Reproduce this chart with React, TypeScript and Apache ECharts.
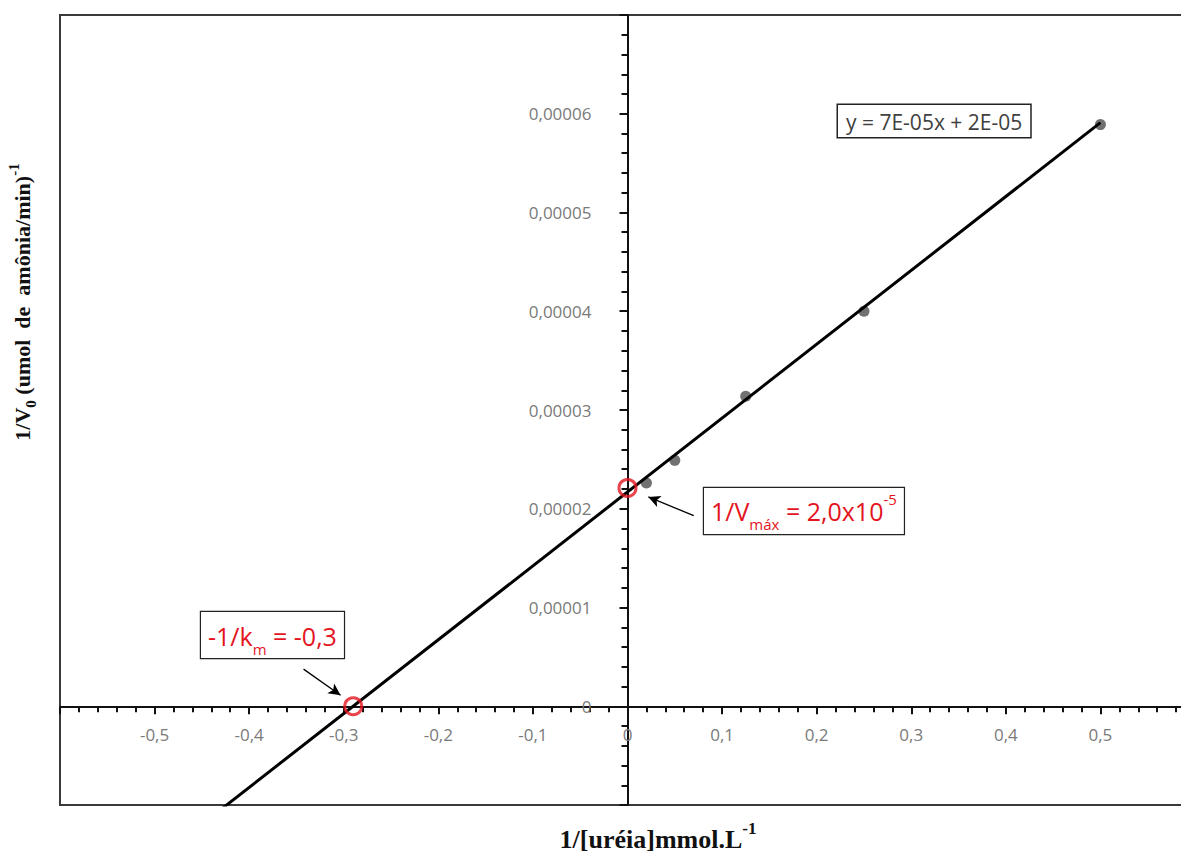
import React, { useEffect, useRef } from 'react';
import * as echarts from 'echarts';

// Measured points (1/[S], 1/V0)
const xValues = [0.02, 0.05, 0.125, 0.25, 0.5];
const yValues = [0.0000226, 0.0000249, 0.0000314, 0.00004, 0.0000589];

// Trend line
const trendSlope = 0.0000748;
const trendIntercept = 0.0000217;
const trendXStart = -0.6;
const trendXEnd = 0.5;

// Highlighted intercepts (red circles)
const interceptX = [-0.29, 0];
const interceptY = [0, 0.0000221];

// Axis ranges
const xRange = [-0.6, 0.6];
const yRange = [-0.00001, 0.00007];
const xStep = 0.1;
const yStep = 0.00001;

// Annotation arrows (tail, head) in data space
const arrowVmax = [[0.07, 0.0000193], [0.022, 0.0000212]];
const arrowKm = [[-0.3425, 0.00000376], [-0.3034, 0.00000112]];

const RED = '#e4141e';
const LABEL_FONT = '"Open Sans", "Liberation Sans", sans-serif';
const SERIF = '"Liberation Serif", "DejaVu Serif", serif';

// Layout
const W = 1181;
const H = 857;
const GRID = { left: 60, top: 15, right: -14, bottom: 52 };

export default function App() {
  const ref = useRef<HTMLDivElement>(null);

  useEffect(() => {
    if (!ref.current) return;
    const chart = echarts.init(ref.current, undefined, { renderer: 'svg' });

    const points = xValues.map((x, i) => [x, yValues[i]]);
    const trend = [
      [trendXStart, trendSlope * trendXStart + trendIntercept],
      [trendXEnd, trendSlope * trendXEnd + trendIntercept],
    ];
    const intercepts = interceptX.map((x, i) => [x, interceptY[i]]);

    const gridW = W - GRID.left - GRID.right;
    const gridH = H - GRID.top - GRID.bottom;
    // place axes at the zero lines
    const xAxisOffset = -gridH * (0 - yRange[0]) / (yRange[1] - yRange[0]);
    const yAxisOffset = -gridW * (0 - xRange[0]) / (xRange[1] - xRange[0]);

    const xFmt = (v: number) => {
      if (Math.abs(v) > 0.55) return '';
      if (Math.abs(v) < 1e-9) return '0';
      return v.toFixed(1).replace('.', ',');
    };
    const yFmt = (v: number) => {
      if (v < -1e-9 || v > 0.000065) return '';
      if (Math.abs(v) < 1e-12) return '0';
      return v.toFixed(5).replace('.', ',');
    };

    const tickStyle = { color: '#111', width: 2 };

    const option: any = {
      animation: false,
      backgroundColor: '#ffffff',
      grid: {
        ...GRID,
        containLabel: false,
        outerBoundsMode: 'none',
        show: true,
        borderColor: '#3a3a3a',
        borderWidth: 2,
        backgroundColor: 'transparent',
      },
      xAxis: {
        type: 'value',
        position: 'bottom',
        offset: xAxisOffset,
        min: xRange[0],
        max: xRange[1],
        interval: xStep,
        axisLine: { onZero: false, lineStyle: { color: '#111', width: 2 } },
        axisTick: { show: true, length: 8, lineStyle: tickStyle },
        minorTick: { show: true, splitNumber: 5, length: 6, lineStyle: tickStyle },
        splitLine: { show: false },
        minorSplitLine: { show: false },
        axisLabel: {
          margin: 20,
          color: '#7a7a7a',
          fontSize: 17,
          fontFamily: LABEL_FONT,
          formatter: xFmt,
        },
      },
      yAxis: {
        type: 'value',
        position: 'left',
        offset: yAxisOffset,
        min: yRange[0],
        max: yRange[1],
        interval: yStep,
        axisLine: { onZero: false, lineStyle: { color: '#111', width: 2 } },
        axisTick: { show: true, length: 8, lineStyle: tickStyle },
        minorTick: { show: true, splitNumber: 5, length: 6, lineStyle: tickStyle },
        splitLine: { show: false },
        minorSplitLine: { show: false },
        axisLabel: {
          margin: 36,
          color: '#7a7a7a',
          fontSize: 17,
          fontFamily: LABEL_FONT,
          formatter: yFmt,
        },
      },
      series: [
        {
          type: 'scatter',
          data: points,
          symbol: 'circle',
          symbolSize: 11,
          itemStyle: { color: '#4d4d4d' },
          silent: true,
          z: 2,
        },
        {
          type: 'line',
          data: trend,
          symbol: 'none',
          clip: true,
          lineStyle: { color: '#000', width: 3 },
          silent: true,
          z: 3,
        },
        {
          type: 'scatter',
          data: intercepts,
          symbol: 'circle',
          symbolSize: 17,
          itemStyle: { color: 'rgba(0,0,0,0)', borderColor: RED, borderWidth: 3 },
          silent: true,
          z: 4,
          markLine: {
            silent: true,
            symbol: ['none', 'arrow'],
            symbolSize: [9, 12],
            label: { show: false },
            lineStyle: { color: '#000', width: 1.3, type: 'solid' },
            data: [
              [{ coord: arrowVmax[0] }, { coord: arrowVmax[1] }],
              [{ coord: arrowKm[0] }, { coord: arrowKm[1] }],
            ],
          },
        },
      ],
      graphic: [
        {
          type: 'text',
          x: 838,
          y: 105,
          z: 100,
          style: {
            text: 'y = 7E-05x + 2E-05',
            font: '21px "Open Sans", sans-serif',
            fill: '#404040',
            backgroundColor: '#ffffff',
            borderColor: '#222',
            borderWidth: 1.5,
            padding: [6, 8, 5, 8],
          },
        },
        {
          type: 'text',
          x: 704,
          y: 488,
          z: 100,
          style: {
            text: '{n|1/V}{s|máx}{n| = 2,0x10}{p|-5}',
            backgroundColor: '#ffffff',
            borderColor: '#222',
            borderWidth: 1.2,
            padding: [3, 7, 3, 7],
            rich: {
              n: { fontSize: 25, fontFamily: LABEL_FONT, fill: RED, lineHeight: 40, verticalAlign: 'middle' },
              s: { fontSize: 15, fontFamily: LABEL_FONT, fill: RED, lineHeight: 40, verticalAlign: 'bottom' },
              p: { fontSize: 15, fontFamily: LABEL_FONT, fill: RED, lineHeight: 40, verticalAlign: 'top' },
            },
          },
        },
        {
          type: 'text',
          x: 201,
          y: 612,
          z: 100,
          style: {
            text: '{n|-1/k}{s|m}{n| = -0,3}',
            backgroundColor: '#ffffff',
            borderColor: '#222',
            borderWidth: 1.2,
            padding: [4, 7, 2, 7],
            rich: {
              n: { fontSize: 25, fontFamily: LABEL_FONT, fill: RED, lineHeight: 40, verticalAlign: 'middle' },
              s: { fontSize: 15, fontFamily: LABEL_FONT, fill: RED, lineHeight: 40, verticalAlign: 'bottom' },
            },
          },
        },
        {
          type: 'text',
          x: 658,
          y: 836,
          z: 100,
          style: {
            text: '{t|1/[uréia]mmol.L}{p|-1}',
            align: 'center',
            verticalAlign: 'middle',
            rich: {
              t: { fontSize: 26, fontWeight: 'bold', fontFamily: SERIF, fill: '#111', lineHeight: 32, verticalAlign: 'bottom' },
              p: { fontSize: 17, fontWeight: 'bold', fontFamily: SERIF, fill: '#111', lineHeight: 32, verticalAlign: 'top' },
            },
          },
        },
        {
          type: 'text',
          x: 22,
          y: 302,
          rotation: Math.PI / 2,
          z: 100,
          style: {
            text: '{t|1/V}{s|0}{t| (umol  de  amônia/min)}{p|-1}',
            align: 'center',
            verticalAlign: 'middle',
            rich: {
              t: { fontSize: 22, fontWeight: 'bold', fontFamily: SERIF, fill: '#111', lineHeight: 32, verticalAlign: 'middle' },
              s: { fontSize: 15, fontWeight: 'bold', fontFamily: SERIF, fill: '#111', lineHeight: 32, verticalAlign: 'bottom' },
              p: { fontSize: 15, fontWeight: 'bold', fontFamily: SERIF, fill: '#111', lineHeight: 32, verticalAlign: 'top' },
            },
          },
        },
      ],
    };

    chart.setOption(option);
    return () => chart.dispose();
  }, []);

  return (
    <div
      ref={ref}
      style={{ position: 'fixed', left: 0, top: 0, width: W, height: H, background: '#fff' }}
    />
  );
}
